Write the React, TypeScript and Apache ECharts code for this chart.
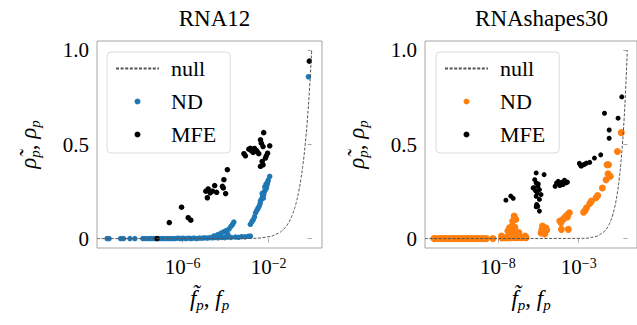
import React, { useEffect, useRef } from 'react';
import * as echarts from 'echarts';

const SERIF = 'serif';

// ---- data (x values are log10 of f, y values are rho) ----
const panelTitles = ['RNA12', 'RNAshapes30'];
const rna12Ticks = [-6, -2];
const shapesTicks = [-8, -3];
const yTickValues = [0, 0.5, 1];

const rna12ND: [number, number][] = [
  [-9.51, 0], [-9.42, 0], [-8.88, 0], [-8.75, 0], [-8.45, 0], [-8.22, 0], [-7.85, 0], [-7.73, 0],
  [-7.59, 0], [-7.46, 0], [-7.34, 0], [-7.22, 0], [-7.1, 0], [-6.98, 0], [-6.85, 0], [-6.72, 0],
  [-6.6, 0], [-6.48, 0], [-6.35, 0], [-6.22, 0.002], [-6.1, 0], [-5.98, 0.002], [-5.85, 0], [-5.72, 0.002],
  [-5.6, 0], [-5.48, 0.003], [-5.35, 0], [-5.22, 0.003], [-5.1, 0.002], [-4.98, 0.004], [-4.85, 0.003],
  [-4.72, 0.005], [-4.6, 0.004], [-4.48, 0.006], [-4.35, 0.004], [-4.2, 0.006], [-4.05, 0.005],
  [-3.9, 0.008], [-3.75, 0.006], [-3.55, 0.008], [-3.4, 0.007], [-3.25, 0.01], [-3.1, 0.009],
  [-2.95, 0.012], [-2.85, 0.013],
  [-4.54, 0.014], [-4.38, 0.02], [-4.23, 0.028], [-4.1, 0.035], [-3.98, 0.042], [-3.85, 0.05],
  [-3.75, 0.065], [-3.68, 0.075], [-3.62, 0.088], [-4.3, 0.012], [-3.9, 0.022],
  [-2.85, 0.076], [-2.78, 0.09], [-2.72, 0.1], [-2.66, 0.115], [-2.61, 0.137], [-2.55, 0.15],
  [-2.5, 0.16], [-2.45, 0.17], [-2.4, 0.185], [-2.38, 0.2], [-2.33, 0.21], [-2.28, 0.225],
  [-2.25, 0.215], [-2.23, 0.234], [-2.3, 0.24], [-2.2, 0.25], [-2.15, 0.26], [-2.18, 0.275],
  [-2.1, 0.27], [-2.12, 0.29], [-2.07, 0.287], [-2.05, 0.3], [-2.02, 0.31], [-1.95, 0.33],
  [-0.15, 0.86],
];

const rna12MFE: [number, number][] = [
  [-7.19, 0], [-6.62, 0.085], [-6.05, 0.167], [-5.74, 0.111], [-5.62, 0.098],
  [-4.92, 0.252], [-4.81, 0.264], [-4.72, 0.243], [-4.85, 0.217], [-4.61, 0.252], [-4.51, 0.282],
  [-4.42, 0.246], [-4.15, 0.278], [-4.08, 0.313], [-4.11, 0.269], [-4.0, 0.239], [-3.92, 0.366],
  [-3.15, 0.451], [-3.08, 0.44], [-2.92, 0.475], [-2.81, 0.468], [-2.72, 0.458], [-2.66, 0.479],
  [-2.57, 0.468], [-2.46, 0.451], [-2.38, 0.525], [-2.34, 0.507], [-2.26, 0.489], [-2.23, 0.563],
  [-1.95, 0.493], [-2.3, 0.41], [-2.26, 0.392], [-2.15, 0.428], [-2.11, 0.44], [-2.05, 0.454],
  [-2.38, 0.384], [-2.54, 0.463], [-2.85, 0.48],
  [-0.11, 0.943],
];

const shapesND: [number, number][] = [
  [-11.95, 0], [-11.88, 0], [-11.7, 0], [-11.55, 0], [-11.4, 0], [-11.25, 0], [-11.1, 0], [-10.95, 0],
  [-10.8, 0], [-10.65, 0], [-10.5, 0], [-10.35, 0], [-10.2, 0], [-10.05, 0], [-9.9, 0], [-9.75, 0],
  [-9.6, 0], [-9.45, 0], [-9.3, 0], [-9.15, 0], [-9.0, 0], [-8.85, 0], [-8.7, 0], [-8.3, 0],
  [-7.75, 0.003], [-7.6, 0.004], [-7.45, 0.005], [-7.3, 0.005], [-7.15, 0.004], [-7.0, 0.006],
  [-6.85, 0.005], [-6.7, 0.006], [-6.55, 0.005], [-6.4, 0.006], [-6.25, 0.005],
  [-6.99, 0.12], [-6.89, 0.102], [-7.08, 0.093], [-7.28, 0.058], [-7.38, 0.04], [-6.99, 0.04],
  [-6.7, 0.032], [-6.31, 0.014], [-7.77, 0.014], [-7.1, 0.07], [-6.95, 0.06], [-7.2, 0.025], [-6.8, 0.02],
  [-5.33, 0.03], [-5.24, 0.067], [-5.14, 0.04], [-5.04, 0.058], [-5.2, 0.05], [-5.1, 0.025],
  [-4.98, 0.045], [-5.28, 0.045],
  [-4.07, 0.049], [-3.64, 0.049], [-4.17, 0.093], [-4.1, 0.085], [-3.97, 0.102], [-3.88, 0.11],
  [-3.78, 0.12], [-3.68, 0.128], [-3.58, 0.137], [-3.7, 0.115],
  [-2.7, 0.14], [-2.6, 0.15], [-2.52, 0.164], [-2.32, 0.186], [-2.22, 0.199], [-1.93, 0.217],
  [-1.83, 0.229], [-1.54, 0.269], [-1.31, 0.313], [-1.19, 0.345], [-1.05, 0.331], [-1.25, 0.392],
  [-1.16, 0.392], [-0.61, 0.463], [-0.37, 0.563],
];

const shapesMFE: [number, number][] = [
  [-7.5, 0.204], [-7.2, 0.226], [-7.05, 0.214],
  [-5.63, 0.349], [-5.14, 0.34], [-5.72, 0.313], [-5.63, 0.296], [-5.77, 0.27], [-5.53, 0.278],
  [-5.43, 0.26], [-5.57, 0.243], [-5.33, 0.234], [-5.63, 0.225], [-5.43, 0.208], [-5.63, 0.169],
  [-5.6, 0.181], [-5.53, 0.172], [-5.43, 0.146], [-5.82, 0.269], [-5.5, 0.29], [-5.68, 0.255],
  [-4.46, 0.278], [-4.37, 0.296], [-4.27, 0.304], [-4.17, 0.282], [-4.07, 0.299], [-3.97, 0.287],
  [-3.88, 0.31], [-3.78, 0.296], [-4.2, 0.29], [-3.7, 0.3],
  [-2.96, 0.4], [-2.91, 0.392], [-2.85, 0.385], [-2.71, 0.392], [-2.62, 0.396], [-2.52, 0.401],
  [-2.32, 0.405], [-2.03, 0.428], [-1.64, 0.445],
  [-1.41, 0.666], [-1.12, 0.577], [-1.12, 0.533], [-0.57, 0.64], [-0.34, 0.753],
];

// null model: rho = f (typed samples)
const nullCurve: [number, number][] = [
  [-3, 0.001], [-2, 0.01], [-1.5, 0.0316], [-1.4, 0.0398], [-1.3, 0.0501], [-1.2, 0.0631],
  [-1.1, 0.0794], [-1.0, 0.1], [-0.9, 0.1259], [-0.8, 0.1585], [-0.7, 0.1995], [-0.6, 0.2512],
  [-0.5, 0.3162], [-0.4, 0.3981], [-0.3, 0.5012], [-0.2, 0.631], [-0.1, 0.7943], [0, 1],
];
const nullLeft: [number, number][] = [[-9.98, 0], ...nullCurve];
const nullRight: [number, number][] = [[-12.5, 0], ...nullCurve];

const BLUE = '#1f77b4';
const ORANGE = '#ff7f0e';
const FRAME = '#a6a6a6';

const tickRich = {
  b: { fontFamily: SERIF, fontSize: 21, color: '#000' },
  s: { fontFamily: SERIF, fontSize: 14, color: '#000', verticalAlign: 'top', lineHeight: 14 },
};
const nameRich = {
  i: { fontFamily: SERIF, fontSize: 23, fontStyle: 'italic', color: '#000', lineHeight: 28 },
  n: { fontFamily: SERIF, fontSize: 23, color: '#000', lineHeight: 28 },
  sub: { fontFamily: SERIF, fontSize: 15, fontStyle: 'italic', color: '#000', verticalAlign: 'bottom', lineHeight: 15 },
};

function xAxisFor(gridIndex: number, min: number, max: number, ticks: number[]) {
  return {
    gridIndex,
    type: 'value',
    min,
    max,
    splitLine: { show: false },
    axisLine: { show: false },
    axisTick: { show: true, length: 4, customValues: ticks, lineStyle: { color: FRAME } },
    axisLabel: {
      customValues: ticks,
      margin: 8,
      fontFamily: SERIF,
      formatter: (v: number) => `{b|10}{s|\u2212${Math.abs(v)}}`,
      rich: tickRich,
    },
    name: '{i|f\u0303}{sub|p}{n|, }{i|f}{sub|p}',
    nameLocation: 'middle',
    nameGap: 36,
    nameTextStyle: { fontFamily: SERIF, rich: nameRich },
  };
}

function yAxisFor(gridIndex: number) {
  return {
    gridIndex,
    type: 'value',
    min: -0.05,
    max: 1.05,
    splitLine: { show: false },
    axisLine: { show: false },
    axisTick: { show: true, length: 4, customValues: yTickValues, lineStyle: { color: FRAME } },
    axisLabel: {
      customValues: yTickValues,
      margin: 8,
      fontFamily: SERIF,
      fontSize: 21,
      color: '#000',
      formatter: (v: number) => (v === 0 ? '0' : v.toFixed(1)),
    },
    name: '{i|\u03c1\u0303}{sub|p}{n|, }{i|\u03c1}{sub|p}',
    nameLocation: 'middle',
    nameRotate: 90,
    nameGap: 55,
    nameTextStyle: { fontFamily: SERIF, rich: nameRich },
  };
}

function legendFor(left: number, ndColor: string) {
  return {
    left,
    top: 52,
    orient: 'vertical',
    itemWidth: 43,
    itemHeight: 6,
    itemGap: 6,
    padding: [3, 14, 5, 8],
    borderColor: '#dcdcdc',
    borderWidth: 1,
    borderRadius: 4,
    backgroundColor: 'rgba(255,255,255,0.8)',
    selectedMode: false,
    textStyle: { fontFamily: SERIF, fontSize: 22, color: '#000', lineHeight: 27, padding: [0, 0, 0, 7] },
    data: [
      { name: 'null', itemStyle: { color: 'rgba(0,0,0,0)', opacity: 0, borderWidth: 0 } },
      { name: 'ND', itemStyle: { color: ndColor } },
      { name: 'MFE', itemStyle: { color: '#000' } },
    ],
  };
}

function nullSeries(axis: number, data: [number, number][]) {
  return {
    name: 'null',
    type: 'line',
    xAxisIndex: axis,
    yAxisIndex: axis,
    data,
    smooth: true,
    symbol: 'none',
    showSymbol: false,
    itemStyle: { color: 'rgba(0,0,0,0)' },
    lineStyle: { type: [3, 1.6], width: 1, color: '#555' },
    z: 5,
  };
}

const fontFix = `#rna-chart text, #rna-chart tspan { font-family: serif !important; }`;

export default function App() {
  const ref = useRef<HTMLDivElement>(null);
  useEffect(() => {
    if (!ref.current) return;
    const chart = echarts.init(ref.current, undefined, { renderer: 'svg' });
    chart.setOption({
      animation: false,
      textStyle: { fontFamily: SERIF, color: '#000' },
      title: [
        { text: panelTitles[0], left: 209.5, top: 2, textAlign: 'center', textStyle: { fontFamily: SERIF, fontSize: 23, fontWeight: 'normal', color: '#000' } },
        { text: panelTitles[1], left: 536.5, top: 2, textAlign: 'center', textStyle: { fontFamily: SERIF, fontSize: 23, fontWeight: 'normal', color: '#000' } },
      ],
      grid: [
        { left: 97, top: 41, width: 225, height: 207, show: true, borderColor: FRAME, borderWidth: 1, backgroundColor: 'transparent' },
        { left: 425, top: 41, width: 223, height: 207, show: true, borderColor: FRAME, borderWidth: 1, backgroundColor: 'transparent' },
      ],
      xAxis: [xAxisFor(0, -9.98, 0.48, rna12Ticks), xAxisFor(1, -12.5, 0.6, shapesTicks)],
      yAxis: [yAxisFor(0), yAxisFor(1)],
      legend: [legendFor(107, BLUE), legendFor(436, ORANGE)],
      series: [
        { name: 'ND', type: 'scatter', xAxisIndex: 0, yAxisIndex: 0, data: rna12ND, symbolSize: 5.5, itemStyle: { color: BLUE, opacity: 1 }, z: 2 },
        { name: 'MFE', type: 'scatter', xAxisIndex: 0, yAxisIndex: 0, data: rna12MFE, symbolSize: 5.5, itemStyle: { color: '#000', opacity: 1 }, z: 3 },
        nullSeries(0, nullLeft),
        { name: 'ND', type: 'scatter', xAxisIndex: 1, yAxisIndex: 1, data: shapesND, symbolSize: 7, itemStyle: { color: ORANGE, opacity: 1 }, z: 2 },
        { name: 'MFE', type: 'scatter', xAxisIndex: 1, yAxisIndex: 1, data: shapesMFE, symbolSize: 5, itemStyle: { color: '#000', opacity: 1 }, z: 3 },
        nullSeries(1, nullRight),
      ],
    });
    return () => chart.dispose();
  }, []);
  return (
    <>
      <style>{fontFix}</style>
      <div
        id="rna-chart"
        ref={ref}
        style={{ position: 'fixed', left: 0, top: 0, width: 637, height: 325, background: '#fff' }}
      />
    </>
  );
}
